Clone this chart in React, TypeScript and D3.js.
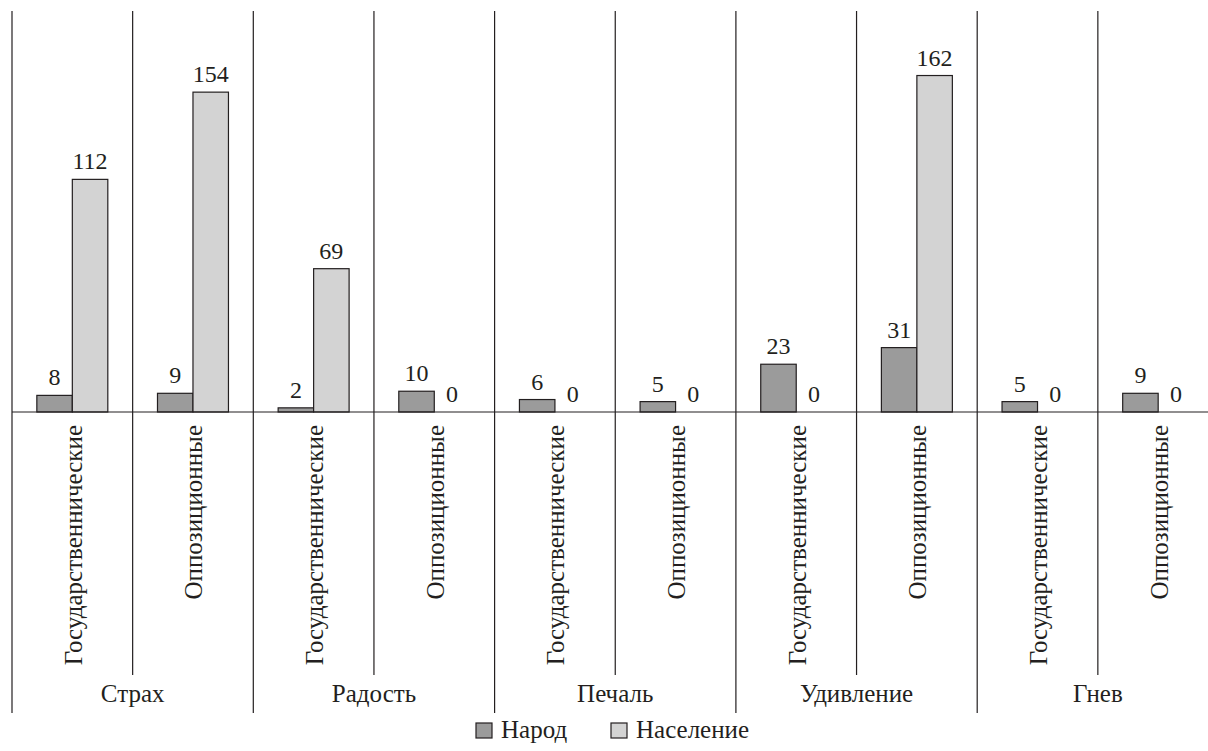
import React, { useEffect, useRef } from "react";
import * as d3 from "d3";

const emotions = ["Страх", "Радость", "Печаль", "Удивление", "Гнев"];
const mediaTypes = ["Государственнические", "Оппозиционные"];
const seriesNames = ["Народ", "Население"];
const narodValues = [8, 9, 2, 10, 6, 5, 23, 31, 5, 9];
const naselenieValues = [112, 154, 69, 0, 0, 0, 0, 162, 0, 0];

const W = 1208;
const H = 751;
const colors = ["#9b9b9b", "#d3d3d3"];
const ink = "#231f20";
const FONT = "'Liberation Serif'";

export default function App() {
  const ref = useRef<SVGSVGElement>(null);

  useEffect(() => {
    const svg = d3.select(ref.current);
    svg.selectAll("*").remove();
    const cells = emotions.flatMap((e, i) => mediaTypes.map((m, j) => ({ e, m, idx: i * 2 + j })));
    const step = 120.65;
    const x0 = d3
      .scaleBand<number>()
      .domain(cells.map((c) => c.idx))
      .range([12, 12 + step * cells.length])
      .padding(0);
    const xInner = d3
      .scaleBand<string>()
      .domain(seriesNames)
      .range([0, x0.bandwidth()])
      .paddingInner(0)
      .paddingOuter(0.7);
    const baseY = 412;
    const y = d3.scaleLinear().domain([0, 162]).range([baseY, baseY - 162 * 2.077]);
    const series = [narodValues, naselenieValues];

    const addText = (sel: any, size: number) =>
      sel
        .attr("font-family", "Liberation Serif")
        .style("font-family", FONT, "important")
        .attr("font-size", size)
        .style("font-size", size + "px", "important")
        .attr("fill", ink);

    cells.forEach((c) => {
      const xl = x0(c.idx)!;
      svg
        .append("line")
        .attr("x1", xl)
        .attr("x2", xl)
        .attr("y1", 11)
        .attr("y2", c.idx % 2 === 0 ? 713 : 675)
        .attr("stroke", ink)
        .attr("stroke-width", 1.2);
    });

    cells.forEach((c) => {
      series.forEach((vals, s) => {
        const v = vals[c.idx];
        const bx = x0(c.idx)! + xInner(seriesNames[s])!;
        const bw = xInner.bandwidth();
        if (v > 0) {
          svg
            .append("rect")
            .attr("x", bx)
            .attr("y", y(v))
            .attr("width", bw)
            .attr("height", baseY - y(v))
            .attr("fill", colors[s])
            .attr("stroke", ink)
            .attr("stroke-width", 1.2);
        }
        addText(svg.append("text"), 24)
          .attr("x", bx + bw / 2)
          .attr("y", y(v) - 10)
          .attr("text-anchor", "middle")
          .text(String(v));
      });
    });

    svg
      .append("line")
      .attr("x1", 12)
      .attr("x2", W)
      .attr("y1", baseY)
      .attr("y2", baseY)
      .attr("stroke", ink)
      .attr("stroke-width", 1.2);

    cells.forEach((c) => {
      const cx = x0(c.idx)! + x0.bandwidth() / 2;
      addText(svg.append("text"), 25)
        .attr("transform", `translate(${cx + 9.5},425) rotate(-90)`)
        .attr("text-anchor", "end")
        .text(c.m);
    });

    emotions.forEach((e, i) => {
      const gx = x0(i * 2)! + x0.bandwidth();
      addText(svg.append("text"), 25)
        .attr("x", gx)
        .attr("y", 702)
        .attr("text-anchor", "middle")
        .text(e);
    });

    seriesNames.forEach((n, i) => {
      const lx = [476, 611][i];
      svg
        .append("rect")
        .attr("x", lx)
        .attr("y", 723)
        .attr("width", 16)
        .attr("height", 15)
        .attr("fill", colors[i])
        .attr("stroke", ink)
        .attr("stroke-width", 1.2);
      addText(svg.append("text"), 25)
        .attr("x", lx + 25)
        .attr("y", 738)
        .text(n);
    });
  }, []);

  return (
    <svg
      ref={ref}
      width={W}
      height={H}
      style={{ position: "absolute", left: 0, top: 0, background: "#fff" }}
    />
  );
}
